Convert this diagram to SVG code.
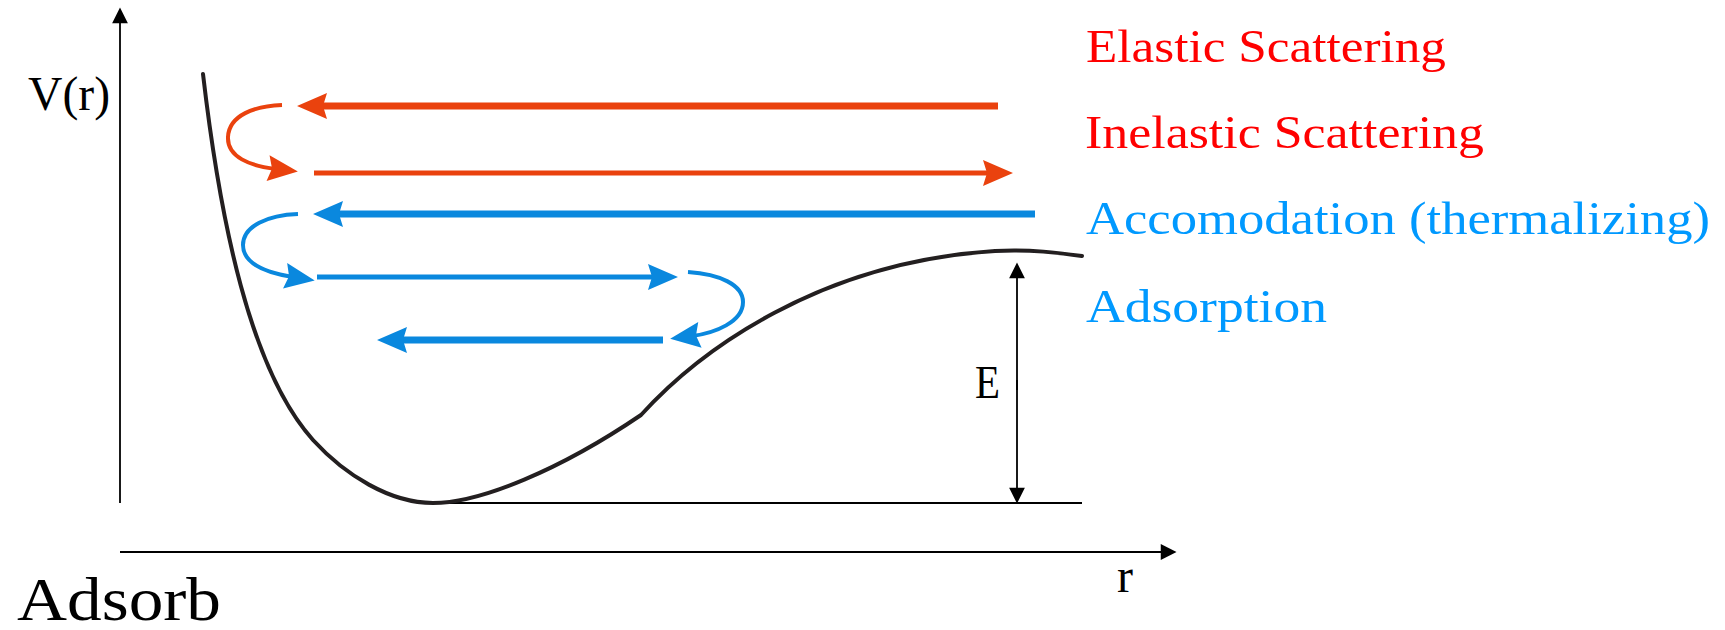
<svg xmlns="http://www.w3.org/2000/svg" width="1725" height="630" viewBox="0 0 1725 630">
<style>
  .lbl { font-family: "Liberation Serif", "DejaVu Serif", serif; }
  .red { fill: #FF0000; }
  .blue { fill: #0099FF; }
  .blk { fill: #000000; }
  .ra { stroke: #EA420E; fill: none; }
  .ba { stroke: #0A88DE; fill: none; }
  .ax { stroke: #000000; stroke-width: 1.8; fill: none; }
  .pot { stroke: #231F20; stroke-width: 4; fill: none; stroke-linecap: round; stroke-linejoin: round; }
</style>
<defs>
  <marker id="hRed" markerUnits="userSpaceOnUse" orient="auto" refX="-22" refY="0" markerWidth="40" markerHeight="30" viewBox="-32 -15 36 30" overflow="visible">
    <path d="M0,0 L-30,-13 L-26,0 L-30,13 Z" fill="#EA420E"/>
  </marker>
  <marker id="hBlue" markerUnits="userSpaceOnUse" orient="auto" refX="-22" refY="0" markerWidth="40" markerHeight="30" viewBox="-32 -15 36 30" overflow="visible">
    <path d="M0,0 L-30,-13 L-26,0 L-30,13 Z" fill="#0A88DE"/>
  </marker>
  <marker id="hBlk" markerUnits="userSpaceOnUse" orient="auto" refX="-10" refY="0" markerWidth="20" markerHeight="20" viewBox="-17 -9 19 18" overflow="visible">
    <path d="M0,0 L-15,-7.5 L-15,7.5 Z" fill="#000000"/>
  </marker>
</defs>

<g id="axes">
  <line class="ax" x1="120" y1="503" x2="120" y2="18" marker-end="url(#hBlk)"/>
  <line class="ax" x1="120" y1="552" x2="1166" y2="552" marker-end="url(#hBlk)"/>
  <line class="ax" x1="430" y1="503" x2="1082" y2="503"/>
</g>

<g id="potential">
  <path class="pot" d="M203,74 C220,220 250,370 313,440 C345,475 390,503 433,503 C480,503 560,470 641,415 C700,350 820,262 995,251 C1030,249 1060,253 1082,256"/>
</g>

<g id="connectors">
  <!-- Elastic scattering -->
  <line class="ra" stroke-width="7" x1="998" y1="106" x2="319" y2="106" marker-end="url(#hRed)"/>
  <path class="ra" stroke-width="4" d="M282,105 C255,106 229,115 228,137 C227,157 250,166 276,169" marker-end="url(#hRed)"/>
  <line class="ra" stroke-width="5" x1="314" y1="173" x2="991" y2="173" marker-end="url(#hRed)"/>
  <!-- Accommodation -->
  <line class="ba" stroke-width="7" x1="1035" y1="214" x2="335" y2="214" marker-end="url(#hBlue)"/>
  <path class="ba" stroke-width="4" d="M298,214 C268,215 243,226 243,245 C243,265 268,273 293,277" marker-end="url(#hBlue)"/>
  <line class="ba" stroke-width="5" x1="317" y1="277" x2="656" y2="277" marker-end="url(#hBlue)"/>
  <!-- Adsorption -->
  <path class="ba" stroke-width="4" d="M688,272 C720,274 743,285 743,302 C743,322 715,333 692,336" marker-end="url(#hBlue)"/>
  <line class="ba" stroke-width="7" x1="663" y1="340" x2="399" y2="340" marker-end="url(#hBlue)"/>
  <!-- Energy barrier E -->
  <line class="ax" x1="1017" y1="390" x2="1017" y2="273" marker-end="url(#hBlk)"/>
  <line class="ax" x1="1017" y1="380" x2="1017" y2="493" marker-end="url(#hBlk)"/>
</g>

<g id="label-vr"><text class="lbl blk" x="28" y="110" font-size="48" textLength="82" lengthAdjust="spacingAndGlyphs">V(r)</text></g>
<g id="label-r"><text class="lbl blk" x="1117" y="592" font-size="48">r</text></g>
<g id="label-e"><text class="lbl blk" x="975" y="398" font-size="46" textLength="25" lengthAdjust="spacingAndGlyphs">E</text></g>
<g id="label-adsorb"><text class="lbl blk" x="17" y="620" font-size="62" textLength="204" lengthAdjust="spacingAndGlyphs">Adsorb</text></g>

<g id="label-elastic"><text class="lbl red" x="1086" y="62" font-size="47" textLength="360" lengthAdjust="spacingAndGlyphs">Elastic Scattering</text></g>
<g id="label-inelastic"><text class="lbl red" x="1085" y="148" font-size="47" textLength="399" lengthAdjust="spacingAndGlyphs">Inelastic Scattering</text></g>
<g id="label-accomodation"><text class="lbl blue" x="1086" y="234" font-size="47" textLength="624" lengthAdjust="spacingAndGlyphs">Accomodation (thermalizing)</text></g>
<g id="label-adsorption"><text class="lbl blue" x="1086" y="322" font-size="47" textLength="241" lengthAdjust="spacingAndGlyphs">Adsorption</text></g>
</svg>
